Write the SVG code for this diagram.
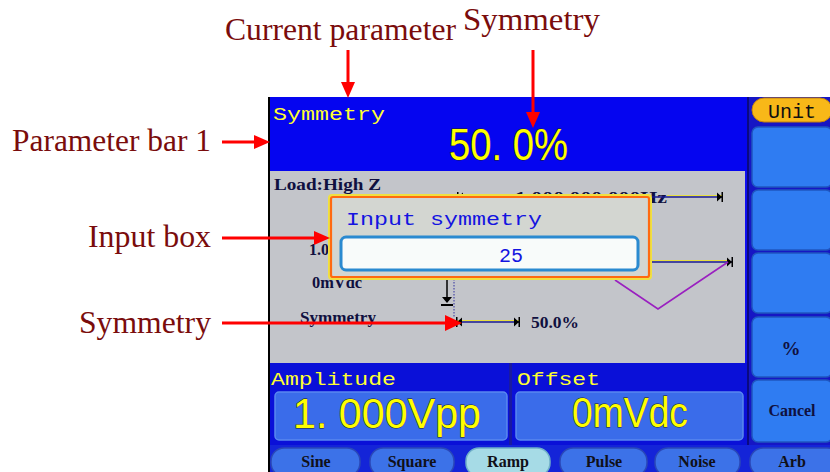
<svg xmlns="http://www.w3.org/2000/svg" width="830" height="472" viewBox="0 0 830 472">
<defs>
<style>
.ann{font-family:"Liberation Serif","Times New Roman",serif;font-size:31px;fill:#7a0c0c}
.red{stroke:#ff0000;stroke-width:3;fill:none}
.head{fill:#ff0000}
.mono{font-family:"Liberation Mono","DejaVu Sans Mono",monospace}
.lab{font-family:"Liberation Mono","DejaVu Sans Mono",monospace;font-size:19px;fill:#ffff30}
.big{font-family:"Liberation Sans",Arial,sans-serif;fill:#ffff00;stroke:#202020;stroke-width:0.8;paint-order:stroke}
.dark{font-family:"Liberation Serif","Times New Roman",serif;font-weight:bold;fill:#101040}
.btn{fill:#2f7cf2;stroke:#1f56c0;stroke-width:1.5}
.tab{fill:#3c72e8;stroke:#2a48b8;stroke-width:1.5}
.tabt{font-family:"Liberation Serif","Times New Roman",serif;font-weight:bold;font-size:16px;fill:#101018;text-anchor:middle}
.meas{stroke:#1a1a90;stroke-width:1.5}
.measy{stroke:#e8e040;stroke-width:1}
.mk{fill:#000}
</style>
</defs>

<g id="screen">
  <rect x="268" y="97" width="562" height="375" fill="#0a10d8"/>
  <rect x="268" y="97" width="2" height="375" fill="#000"/>
  <!-- top parameter bar -->
  <g id="param-bar">
    <rect x="270" y="97" width="477" height="74" fill="#0505f0"/>
    <text class="lab" x="273" y="120" textLength="112" lengthAdjust="spacingAndGlyphs">Symmetry</text>
    <text class="big" x="449" y="160" font-size="44" textLength="119" lengthAdjust="spacingAndGlyphs">50. 0%</text>
  </g>
  <!-- gray waveform area -->
  <g id="wave-area">
    <rect x="270" y="171" width="477" height="192" fill="#c3c5ca"/>
    <rect x="745" y="171" width="2" height="192" fill="#1010f0"/>
    <text class="dark" x="274" y="190" font-size="16" textLength="107" lengthAdjust="spacingAndGlyphs">Load:High Z</text>
    <text class="dark" x="309" y="255" font-size="16">1.000Vpp</text>
    <text class="dark" x="312" y="288" font-size="16" textLength="50" lengthAdjust="spacingAndGlyphs">0mVdc</text>
    <text class="dark" x="300" y="323" font-size="16" textLength="76" lengthAdjust="spacingAndGlyphs">Symmetry</text>
    <!-- frequency line -->
    <text class="dark" x="515" y="203" font-size="16" textLength="152" lengthAdjust="spacingAndGlyphs">1.000.000.000Hz</text>
    <line class="meas" x1="457" y1="197" x2="723" y2="197"/>
    <line class="measy" x1="667" y1="195.5" x2="723" y2="195.5"/>
    <path class="mk" d="M457 192v10h1.5v-10z M463 192.5l-5 4.5 5 4.5z"/>
    <path class="mk" d="M723 192v10h-1.5v-10z M717 192.5l5 4.5-5 4.5z"/>
    <!-- offset line -->
    <line class="meas" x1="640" y1="262" x2="732" y2="262"/>
    <line class="measy" x1="650" y1="260.5" x2="730" y2="260.5"/>
    <path class="mk" d="M733 257v10h-1.5v-10z M727 257.5l5 4.5-5 4.5z"/>
    <!-- ramp waveform -->
    <polyline points="615,280 658,309 728,262" fill="none" stroke="#9a20c0" stroke-width="1.6"/>
    <!-- vertical marker -->
    <line x1="447" y1="276" x2="447" y2="300" stroke="#000" stroke-width="1.5"/>
    <path class="mk" d="M442 297h10l-5 6z M441 304h12v2h-12z"/>
    <line x1="454" y1="276" x2="454" y2="318" stroke="#3030a0" stroke-width="1" stroke-dasharray="1.5,1.5"/>
    <!-- symmetry line -->
    <line class="meas" x1="457" y1="322" x2="519" y2="322"/>
    <line class="measy" x1="457" y1="320.5" x2="519" y2="320.5"/>
    <path class="mk" d="M456 317v10h1.5v-10z M462 317.5l-5 4.5 5 4.5z"/>
    <path class="mk" d="M520 317v10h-1.5v-10z M514 317.5l5 4.5-5 4.5z"/>
    <text class="dark" x="531" y="328" font-size="16" textLength="48" lengthAdjust="spacingAndGlyphs">50.0%</text>
  </g>
  <!-- input dialog -->
  <g id="input-box">
    <rect x="330" y="196" width="320" height="82" fill="none" stroke="#f0e040" stroke-width="4" rx="2"/>
    <rect x="331" y="197" width="318" height="80" fill="#d3d6d1" stroke="#ff6a10" stroke-width="2.2" rx="2"/>
    <text class="mono" x="346" y="225" font-size="19" fill="#1414e0" textLength="196" lengthAdjust="spacingAndGlyphs">Input symmetry</text>
    <rect x="341" y="237" width="297" height="33" rx="5" fill="#f8fbfa" stroke="#2a8ad0" stroke-width="3"/>
    <text class="mono" x="511" y="262" font-size="20" fill="#1414e0" text-anchor="middle">25</text>
  </g>
  <!-- amplitude / offset -->
  <g id="amplitude">
    <text class="lab" x="271" y="385" textLength="125" lengthAdjust="spacingAndGlyphs">Amplitude</text>
    <rect x="275" y="392" width="232" height="48" rx="4" fill="#3a6cea" stroke="#5a88f0" stroke-width="1.5"/>
    <text class="big" x="293" y="428" font-size="42" textLength="188" lengthAdjust="spacingAndGlyphs">1. 000Vpp</text>
  </g>
  <rect x="509" y="363" width="3" height="82" fill="#1a1aa0"/>
  <g id="offset">
    <text class="lab" x="517" y="385" textLength="83" lengthAdjust="spacingAndGlyphs">Offset</text>
    <rect x="516" y="392" width="227" height="48" rx="4" fill="#3a6cea" stroke="#5a88f0" stroke-width="1.5"/>
    <text class="big" x="572" y="427" font-size="42" textLength="116" lengthAdjust="spacingAndGlyphs">0mVdc</text>
  </g>
  <!-- right softkeys -->
  <g id="softkeys">
    <rect x="747" y="97" width="83" height="348" fill="#1616c4"/>
    <rect x="747" y="97" width="2" height="348" fill="#0a0a80"/>
    <rect x="752" y="98" width="80" height="24" rx="12" fill="#f8b818" stroke="#c08010" stroke-width="1"/>
    <text class="mono" x="792" y="118" font-size="20" fill="#101010" text-anchor="middle">Unit</text>
    <rect class="btn" x="752" y="127" width="80" height="60" rx="6"/>
    <rect class="btn" x="752" y="190" width="80" height="60" rx="6"/>
    <rect class="btn" x="752" y="253" width="80" height="60" rx="6"/>
    <rect class="btn" x="752" y="317" width="80" height="60" rx="6"/>
    <text class="dark" x="791" y="355" font-size="19" text-anchor="middle">%</text>
    <rect class="btn" x="752" y="380" width="80" height="62" rx="6"/>
    <text class="dark" x="792" y="416" font-size="16" text-anchor="middle">Cancel</text>
  </g>
  <!-- bottom tabs -->
  <g id="tabs">
    <rect x="270" y="445" width="560" height="27" fill="#1424d8"/>
    <rect class="tab" x="271" y="448" width="89" height="28" rx="13"/>
    <text class="tabt" x="316" y="467">Sine</text>
    <rect class="tab" x="370" y="448" width="84" height="28" rx="13"/>
    <text class="tabt" x="412" y="467">Square</text>
    <rect x="466" y="448" width="84" height="28" rx="13" fill="#a6dbe6" stroke="#70b0c8" stroke-width="1.5"/>
    <text class="tabt" x="508" y="467">Ramp</text>
    <rect class="tab" x="560" y="448" width="87" height="28" rx="13"/>
    <text class="tabt" x="604" y="467">Pulse</text>
    <rect class="tab" x="655" y="448" width="85" height="28" rx="13"/>
    <text class="tabt" x="697" y="467">Noise</text>
    <rect class="tab" x="750" y="448" width="90" height="28" rx="13"/>
    <text class="tabt" x="792" y="467">Arb</text>
  </g>
</g>

<g id="annotations">
  <text class="ann" x="225" y="40" textLength="231" lengthAdjust="spacingAndGlyphs">Current parameter</text>
  <text class="ann" x="463" y="30" textLength="137" lengthAdjust="spacingAndGlyphs">Symmetry</text>
  <text class="ann" x="12" y="151" textLength="199" lengthAdjust="spacingAndGlyphs">Parameter bar 1</text>
  <text class="ann" x="88" y="247" textLength="123" lengthAdjust="spacingAndGlyphs">Input box</text>
  <text class="ann" x="79" y="333" textLength="132" lengthAdjust="spacingAndGlyphs">Symmetry</text>
</g>

<g id="connectors">
  <line class="red" x1="348" y1="50" x2="348" y2="84"/>
  <path class="head" d="M341 82h14l-7 16z"/>
  <line class="red" x1="533" y1="50" x2="533" y2="114"/>
  <path class="head" d="M526 112h14l-7 16z"/>
  <line class="red" x1="222" y1="142" x2="256" y2="142"/>
  <path class="head" d="M254 135v14l16-7z"/>
  <line class="red" x1="222" y1="238" x2="316" y2="238"/>
  <path class="head" d="M314 231v14l16-7z"/>
  <line class="red" x1="222" y1="323" x2="447" y2="323"/>
  <path class="head" d="M445 315v16l17-8z"/>
</g>
</svg>
